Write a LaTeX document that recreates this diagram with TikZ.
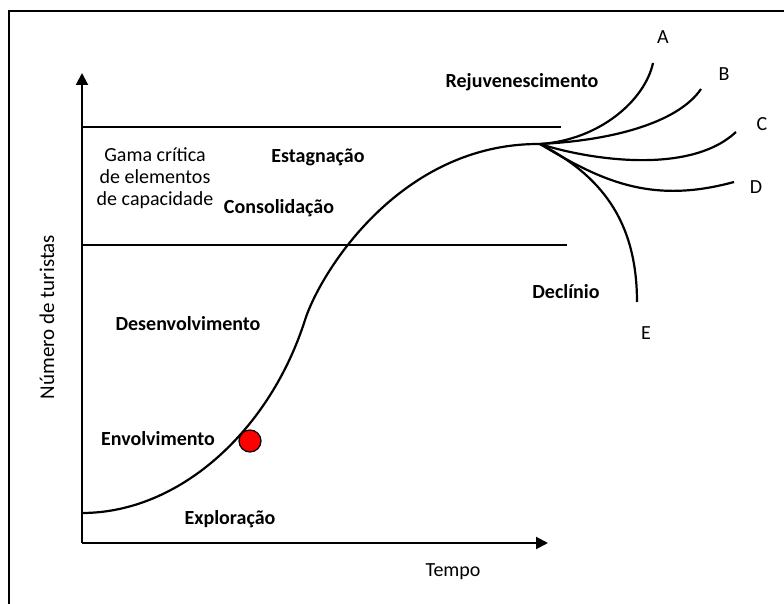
\documentclass[tikz,border=0pt]{standalone}
\usepackage{fontspec}
\setmainfont{Carlito}
\usetikzlibrary{arrows.meta,positioning}
\tikzset{x=0.5pt, y=-0.5pt, % One unit is one pixel of the reference, y downwards
        every node/.style={ % Plain text
            font=\fontsize{10}{11}\selectfont},
        phase/.style={ % Names of the stages
            font=\fontsize{10}{11}\selectfont\bfseries},
        axis/.style={ % Axes with filled heads
            line width=1pt,
            -{Triangle[length=6pt,width=6pt]}},
        limit/.style={line width=0.7pt}, % Capacity range
        curve/.style={line width=1.1pt} % Life cycle and its branches
        }

\begin{document}
\begin{tikzpicture}
    \useasboundingbox (0,0) rectangle (784,604);
    \draw[line width=0.8pt] (9,604) -- (9,11) -- (784,11);

    % axes
    \coordinate (o) at (82,543);
    \coordinate (ytop) at (82,73);
    \coordinate (xend) at (548,543);
    \draw[axis] (o) -- (ytop);
    \draw[axis] (o) -- (xend);
    \node (tempo) at (453,572) {Tempo};
    \node[rotate=90, font=\fontsize{10.5}{12}\selectfont] (turistas) at (47,317) {Número de turistas};

    % capacity range
    \coordinate (hi) at (82,127);
    \coordinate (hiend) at (561,127);
    \coordinate (lo) at (82,245);
    \coordinate (loend) at (567,245);
    \draw[limit] (hi) -- (hiend);
    \draw[limit] (lo) -- (loend);
    \node[align=center] (gama) at (155,178) {Gama crítica\\de elementos\\de capacidade};

    % life cycle
    \coordinate (start) at (82,513);
    \coordinate (bend) at (305,320);
    \coordinate (peak) at (540,144);
    \draw[curve] (start) .. controls (180,513) and (270,430) .. (bend)
        .. controls (320,273) and (400,143) .. (peak);
    \node[circle, draw, fill=red, line width=0.6pt, minimum size=11pt, inner sep=0pt] (dot) at (250,441) {};

    % branches
    \node (a) at (663,37) {A};
    \node (b) at (724,74) {B};
    \node (c) at (762,124) {C};
    \node (d) at (756,187) {D};
    \node (e) at (646,333) {E};
    \coordinate (endA) at (653,63);
    \coordinate (endB) at (701,89);
    \coordinate (endC) at (736,132);
    \coordinate (endD) at (734,182);
    \coordinate (endE) at (637,302);
    \draw[curve] (peak) .. controls (600,140) and (645,100) .. (endA);
    \draw[curve] (peak) .. controls (620,140) and (680,120) .. (endB);
    \draw[curve] (peak) .. controls (590,160) and (690,175) .. (endC);
    \draw[curve] (peak) .. controls (600,180) and (650,205) .. (endD);
    \draw[curve] (peak) .. controls (600,175) and (637,220) .. (endE);

    % stages
    \node[phase] (rejuv) at (522,82) {Rejuvenescimento};
    \node[phase] (estag) at (318,157) {Estagnação};
    \node[phase] (consol) at (279,208) {Consolidação};
    \node[phase] (desenv) at (188,324) {Desenvolvimento};
    \node[phase] (envolv) at (158,439) {Envolvimento};
    \node[phase] (explor) at (230,519) {Exploração};
    \node[phase] (declinio) at (566,292) {Declínio};
\end{tikzpicture}
\end{document}
